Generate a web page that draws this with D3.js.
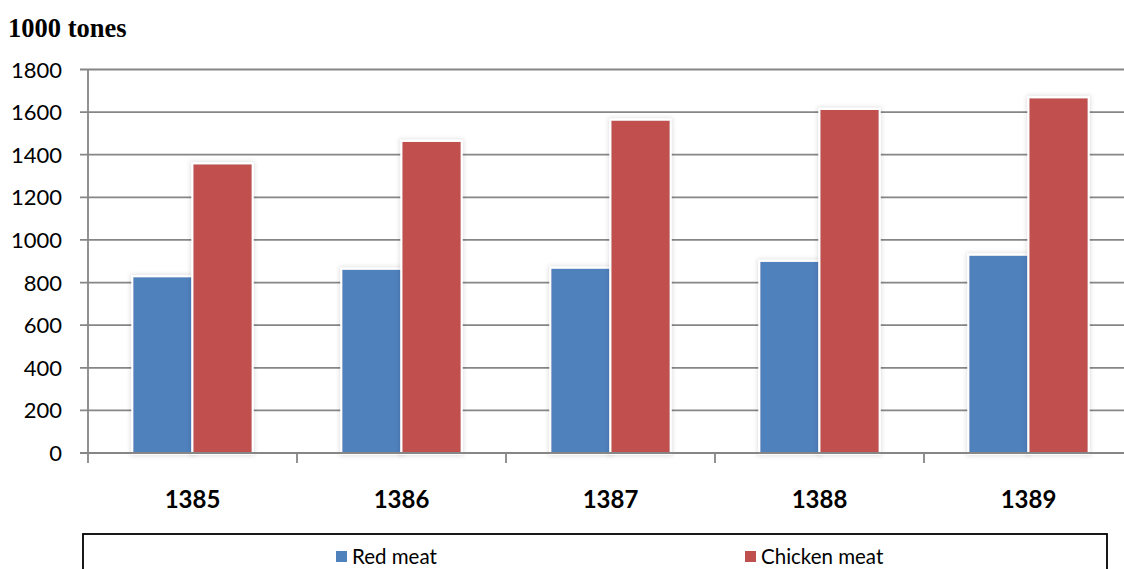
<!DOCTYPE html>
<html>
<head>
<meta charset="utf-8">
<script src="https://cdn.jsdelivr.net/npm/d3@7/dist/d3.min.js"></script>
<style>
  html, body { margin: 0; padding: 0; background: #fff; }
  svg { display: block; }
</style>
</head>
<body>
<script>
const years = ["1385", "1386", "1387", "1388", "1389"];
const seriesNames = ["Red meat", "Chicken meat"];
const redMeat = [825, 860, 865, 897, 926];
const chickenMeat = [1355, 1460, 1560, 1610, 1665];
const yTicks = [0, 200, 400, 600, 800, 1000, 1200, 1400, 1600, 1800];
const colors = ["#4F81BD", "#C0504D"];

const W = 1124, H = 569;
const svg = d3.select("body").append("svg").attr("width", W).attr("height", H);

const defs = svg.append("defs");
const f = defs.append("filter").attr("id", "glow").attr("x", "-20%").attr("y", "-20%").attr("width", "140%").attr("height", "140%");
f.append("feMorphology").attr("in", "SourceAlpha").attr("operator", "dilate").attr("radius", 3).attr("result", "dil");
f.append("feGaussianBlur").attr("in", "dil").attr("stdDeviation", 2).attr("result", "blur");
f.append("feFlood").attr("flood-color", "#000").attr("flood-opacity", 0.12).attr("result", "fl");
f.append("feComposite").attr("in", "fl").attr("in2", "blur").attr("operator", "in").attr("result", "shadow");
f.append("feFlood").attr("flood-color", "#fff").attr("result", "wf");
f.append("feMorphology").attr("in", "SourceAlpha").attr("operator", "dilate").attr("radius", 2).attr("result", "dil2");
f.append("feComposite").attr("in", "wf").attr("in2", "dil2").attr("operator", "in").attr("result", "white");
const fm = f.append("feMerge");
fm.append("feMergeNode").attr("in", "shadow");
fm.append("feMergeNode").attr("in", "white");
fm.append("feMergeNode").attr("in", "SourceGraphic");

const plotLeft = 88, plotRight = 1133, plotTop = 69.5, plotBottom = 453;
const y = d3.scaleLinear().domain([0, 1800]).range([plotBottom, plotTop]);
const x = d3.scaleBand().domain(years).range([plotLeft, plotRight]).paddingInner(0).paddingOuter(0);
const x1 = d3.scaleBand().domain(seriesNames).range([0, x.bandwidth()]).paddingInner(0).paddingOuter(0.74);

// title
svg.append("text").attr("x", 8).attr("y", 37)
  .attr("font-family", "Liberation Serif, Times New Roman, serif")
  .attr("font-weight", "bold").attr("font-size", 26.5).attr("fill", "#000")
  .text("1000 tones");

// gridlines
svg.append("g").selectAll("line").data(yTicks).join("line")
  .attr("x1", plotLeft - 8).attr("x2", plotRight)
  .attr("y1", d => y(d)).attr("y2", d => y(d))
  .attr("stroke", "#868686").attr("stroke-width", 1.8);

// y axis line
svg.append("line").attr("x1", plotLeft).attr("x2", plotLeft).attr("y1", plotTop).attr("y2", plotBottom + 10)
  .attr("stroke", "#868686").attr("stroke-width", 1.8);

// category ticks
svg.append("g").selectAll("line").data(years.slice(1)).join("line")
  .attr("x1", d => x(d)).attr("x2", d => x(d))
  .attr("y1", plotBottom).attr("y2", plotBottom + 10)
  .attr("stroke", "#868686").attr("stroke-width", 1.8);

// y labels
svg.append("g").selectAll("text").data(yTicks).join("text")
  .attr("x", 62).attr("y", d => y(d) + 8)
  .attr("text-anchor", "end")
  .attr("font-family", "Lato, sans-serif").attr("font-size", 22).attr("fill", "#000")
  .text(d => d);

// bars
const data = years.map((yr, i) => ({ year: yr, vals: [redMeat[i], chickenMeat[i]] }));
const groups = svg.append("g").selectAll("g").data(data).join("g")
  .attr("transform", d => `translate(${x(d.year)},0)`);
groups.selectAll("rect").data(d => d.vals.map((v, j) => ({ v, j }))).join("rect")
  .attr("x", d => x1(seriesNames[d.j]) + 0.8)
  .attr("width", x1.bandwidth() - 1.6)
  .attr("y", d => y(d.v))
  .attr("height", d => plotBottom - y(d.v))
  .attr("fill", d => colors[d.j])
  .attr("filter", "url(#glow)");

// redraw baseline over bars
svg.append("line").attr("x1", plotLeft).attr("x2", plotRight).attr("y1", plotBottom).attr("y2", plotBottom)
  .attr("stroke", "#868686").attr("stroke-width", 1.8);

// category labels
svg.append("g").selectAll("text").data(years).join("text")
  .attr("x", d => x(d) + x.bandwidth() / 2).attr("y", 507.5)
  .attr("text-anchor", "middle")
  .attr("font-family", "Lato, sans-serif").attr("font-weight", "bold").attr("font-size", 24)
  .attr("fill", "#000")
  .text(d => d);

// legend
svg.append("rect").attr("x", 83).attr("y", 534).attr("width", 1024).attr("height", 60)
  .attr("fill", "none").attr("stroke", "#000").attr("stroke-width", 1.8);
const legX = [336, 745];
const leg = svg.append("g").selectAll("g").data(seriesNames).join("g")
  .attr("transform", (d, i) => `translate(${legX[i]},0)`);
leg.append("rect").attr("x", 0).attr("y", 551).attr("width", 11).attr("height", 11)
  .attr("fill", (d, i) => colors[i]);
leg.append("text").attr("x", 16).attr("y", 564)
  .attr("font-family", "Lato, sans-serif").attr("font-size", 20.5).attr("fill", "#000")
  .text(d => d);
</script>
</body>
</html>
